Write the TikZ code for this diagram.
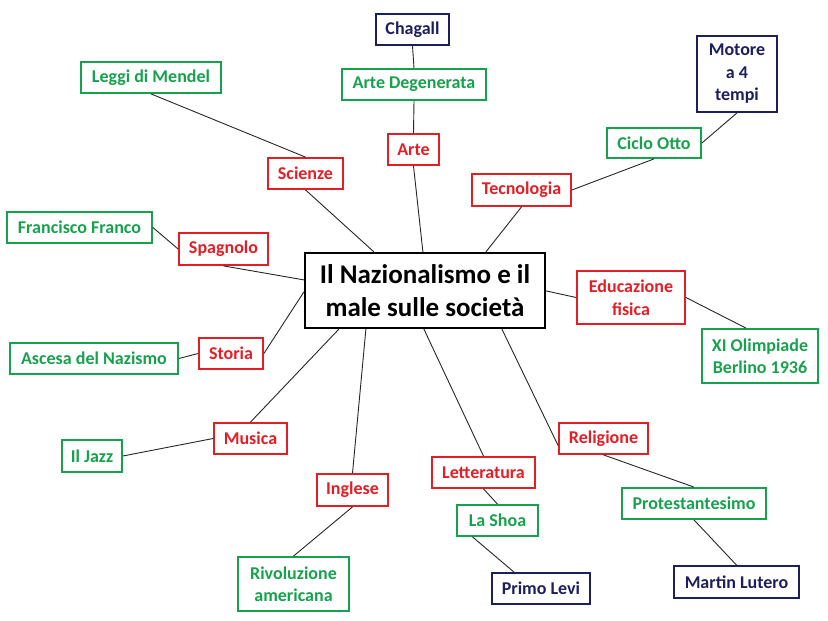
\documentclass[tikz,border=0pt]{standalone}
\usepackage{fontspec}
\setmainfont{Carlito}
\definecolor{cred}{HTML}{E31E24}
\definecolor{cgreen}{HTML}{16A24D}
\definecolor{cnavy}{HTML}{1C1F5C}
\tikzset{
  bx/.style={draw, line width=1.8pt, inner sep=0pt, align=center,
    font=\bfseries\fontsize{18}{22.5}\selectfont},
  rbox/.style={bx, draw=cred, text=cred},
  gbox/.style={bx, draw=cgreen, text=cgreen},
  nbox/.style={bx, draw=cnavy, text=cnavy},
  cbox/.style={draw, line width=2.2pt, inner sep=0pt, align=center,
    font=\bfseries\fontsize{27}{33}\selectfont},
  ln/.style={line width=0.9pt, black!85}
}
\newcommand{\bxat}[6]{\node[#1, minimum width=#4pt, minimum height=#5pt] (#2) at (#3) {#6};}
\begin{document}
\begin{tikzpicture}[x=1pt, y=-1pt]
\useasboundingbox (0,0) rectangle (828,621);
% center
\node[cbox, minimum width=240pt, minimum height=75pt] (c) at (425,290.5) {Il Nazionalismo e il\\male sulle società};
% nodes
\bxat{nbox}{chagall}{412.5,29.5}{73}{31}{Chagall}
\bxat{gbox}{artedeg}{414,84.5}{144}{31}{Arte Degenerata}
\bxat{rbox}{arte}{413.5,149.5}{51}{31}{Arte}
\bxat{gbox}{leggi}{151,77.5}{140}{31}{Leggi di Mendel}
\bxat{rbox}{scienze}{305.5,173.5}{75}{31}{Scienze}
\bxat{rbox}{tecno}{521.5,190}{99}{32}{Tecnologia}
\bxat{gbox}{ciclo}{654,143}{94}{30}{Ciclo Otto}
\bxat{nbox}{motore}{737,74}{80}{76}{Motore\\a 4\\tempi}
\bxat{gbox}{franco}{79.5,227.5}{145}{31}{Francisco Franco}
\bxat{rbox}{spagnolo}{223.5,249}{89}{32}{Spagnolo}
\bxat{rbox}{educ}{631,297.5}{108}{53}{Educazione\\fisica}
\bxat{gbox}{xi}{760,356}{116}{54}{XI Olimpiade\\Berlino 1936}
\bxat{gbox}{ascesa}{94,358.5}{168}{31}{Ascesa del Nazismo}
\bxat{rbox}{storia}{231,353.5}{64}{31}{Storia}
\bxat{rbox}{musica}{250.5,438.5}{73}{31}{Musica}
\bxat{gbox}{jazz}{92,456}{60}{32}{Il Jazz}
\bxat{rbox}{inglese}{352.5,490}{71}{32}{Inglese}
\bxat{gbox}{rivol}{293.5,584}{111}{54}{Rivoluzione\\americana}
\bxat{rbox}{lett}{483.5,472.5}{103}{31}{Letteratura}
\bxat{gbox}{shoa}{497.5,520.5}{81}{31}{La Shoa}
\bxat{nbox}{levi}{541,588.5}{98}{31}{Primo Levi}
\bxat{rbox}{relig}{603.5,438.5}{89}{31}{Religione}
\bxat{gbox}{protest}{694,503.5}{144}{31}{Protestantesimo}
\bxat{nbox}{lutero}{736.5,582}{125}{32}{Martin Lutero}
% connectors
\draw[ln] (chagall.south) -- (artedeg.north);
\draw[ln] (artedeg.south) -- (arte.north);
\draw[ln] (arte.south) -- ([xshift=119pt]c.north west);
\draw[ln] (leggi.south) -- (scienze.north);
\draw[ln] (scienze.south) -- ([xshift=70pt]c.north west);
\draw[ln] (tecno.south) -- ([xshift=182pt]c.north west);
\draw[ln] (tecno.east) -- (ciclo.south);
\draw[ln] (ciclo.east) -- (motore.south);
\draw[ln] (franco.east) -- ([yshift=-0pt]spagnolo.west);
\draw[ln] (spagnolo.south) -- ([yshift=-28pt]c.north west);
\draw[ln] (storia.east) -- ([yshift=-40pt]c.north west);
\draw[ln] (ascesa.east) -- (storia.west);
\draw[ln] ([yshift=-39pt]c.north east) -- (educ.west);
\draw[ln] (educ.east) -- ([xshift=-14pt]xi.north);
\draw[ln] (musica.north) -- ([xshift=35pt]c.south west);
\draw[ln] (musica.west) -- (jazz.east);
\draw[ln] (inglese.north) -- ([xshift=62pt]c.south west);
\draw[ln] (inglese.south) -- (rivol.north);
\draw[ln] (lett.north) -- ([xshift=120pt]c.south west);
\draw[ln] (lett.south) -- (shoa.north);
\draw[ln] ([xshift=-25pt]shoa.south) -- ([xshift=-27pt]levi.north);
\draw[ln] ([yshift=-7pt]relig.west) -- ([xshift=198pt]c.south west);
\draw[ln] (relig.south) -- (protest.north);
\draw[ln] (protest.south) -- (lutero.north);
\end{tikzpicture}
\end{document}
